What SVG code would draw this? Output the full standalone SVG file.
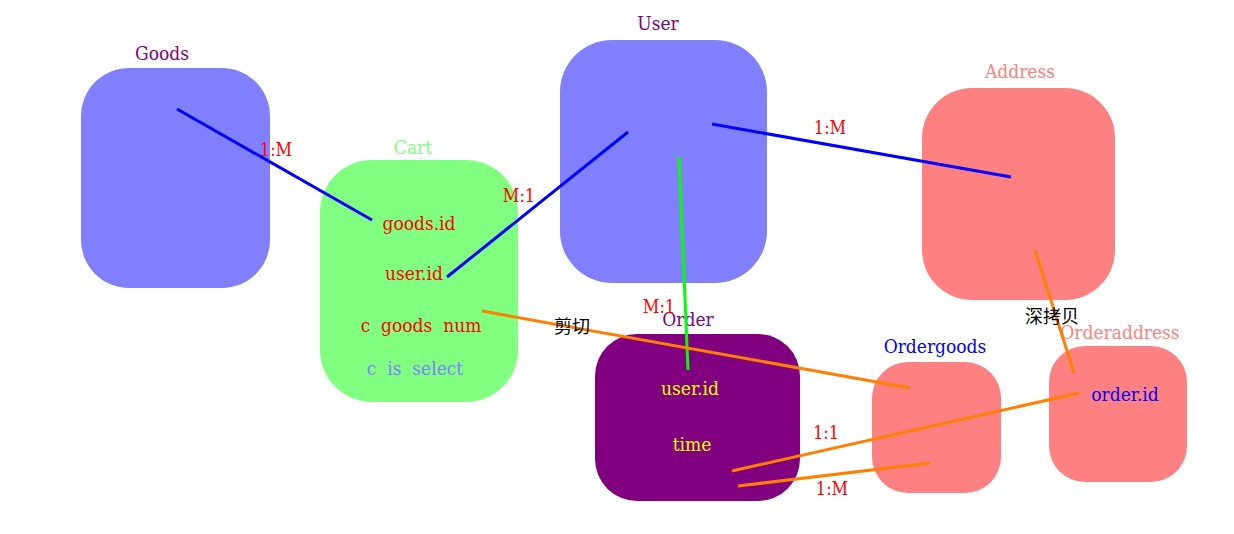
<svg xmlns="http://www.w3.org/2000/svg" width="1234" height="534" viewBox="0 0 1234 534">
<style>
text{font-family:"DejaVu Serif Condensed","DejaVu Serif","Liberation Serif",serif;font-size:19px;text-anchor:middle}
.rel{fill:#ff0000;font-size:18px}
.cn{font-family:"Noto Sans CJK SC",sans-serif;fill:#000;font-size:18px}
.blue{stroke:#0000ff;stroke-width:3;fill:none}
.orange{stroke:#ff8000;stroke-width:3;fill:none}
.green{stroke:#00ff00;stroke-width:3;fill:none}
</style>
<rect width="1234" height="534" fill="#fff"/>
<g id="goods">
<rect x="81" y="68" width="189" height="220" rx="48" fill="#8080ff"/>
<text x="162" y="60" fill="#800080">Goods</text>
</g>
<g id="cart">
<rect x="320" y="160" width="198" height="242" rx="52" fill="#80ff80"/>
<text x="413" y="154" fill="#80ff80">Cart</text>
<text x="419" y="230" fill="#ff0000">goods.id</text>
<text x="414" y="280" fill="#ff0000">user.id</text>
<text x="421" y="332" fill="#ff0000" xml:space="preserve">c  goods  num</text>
<text x="415" y="375" fill="#8080ff" xml:space="preserve">c  is  select</text>
</g>
<g id="user">
<rect x="560" y="40" width="207" height="243" rx="52" fill="#8080ff"/>
<text x="658" y="30" fill="#800080">User</text>
</g>
<g id="address">
<rect x="922" y="88" width="193" height="212" rx="50" fill="#ff8080"/>
<text x="1020" y="78" fill="#ff8080">Address</text>
</g>
<g id="order">
<rect x="595" y="334" width="205" height="167" rx="42" fill="#800080"/>
<text x="688" y="326" fill="#800080">Order</text>
<text x="690" y="395" fill="#ffff00">user.id</text>
<text x="692" y="451" fill="#ffff00">time</text>
</g>
<g id="ordergoods">
<rect x="872" y="362" width="129" height="131" rx="36" fill="#ff8080"/>
<text x="935" y="353" fill="#0000ff">Ordergoods</text>
</g>
<g id="orderaddress">
<rect x="1049" y="346" width="138" height="136" rx="36" fill="#ff8080"/>
<text x="1120" y="339" fill="#ff8080">Orderaddress</text>
<text x="1125" y="401" fill="#0000ff">order.id</text>
</g>
<g id="connectors">
<line class="blue" x1="177" y1="109" x2="372" y2="220"/>
<line class="blue" x1="447" y1="277" x2="628" y2="132"/>
<line class="blue" x1="712" y1="124" x2="1011" y2="177"/>
<line class="green" x1="679" y1="157" x2="688" y2="370"/>
<line class="orange" x1="482" y1="311" x2="910" y2="388"/>
<line class="orange" x1="1035" y1="250" x2="1074" y2="373"/>
<line class="orange" x1="732" y1="471" x2="1079" y2="393"/>
<line class="orange" x1="738" y1="486" x2="930" y2="463"/>
<text class="rel" x="276" y="156">1:M</text>
<text class="rel" x="519" y="202">M:1</text>
<text class="rel" x="830" y="134">1:M</text>
<text class="rel" x="659" y="313">M:1</text>
<text class="rel" x="826" y="439">1:1</text>
<text class="rel" x="832" y="495">1:M</text>
<text class="cn" x="572" y="333">剪切</text>
<text class="cn" x="1052" y="323">深拷贝</text>
</g>
</svg>
